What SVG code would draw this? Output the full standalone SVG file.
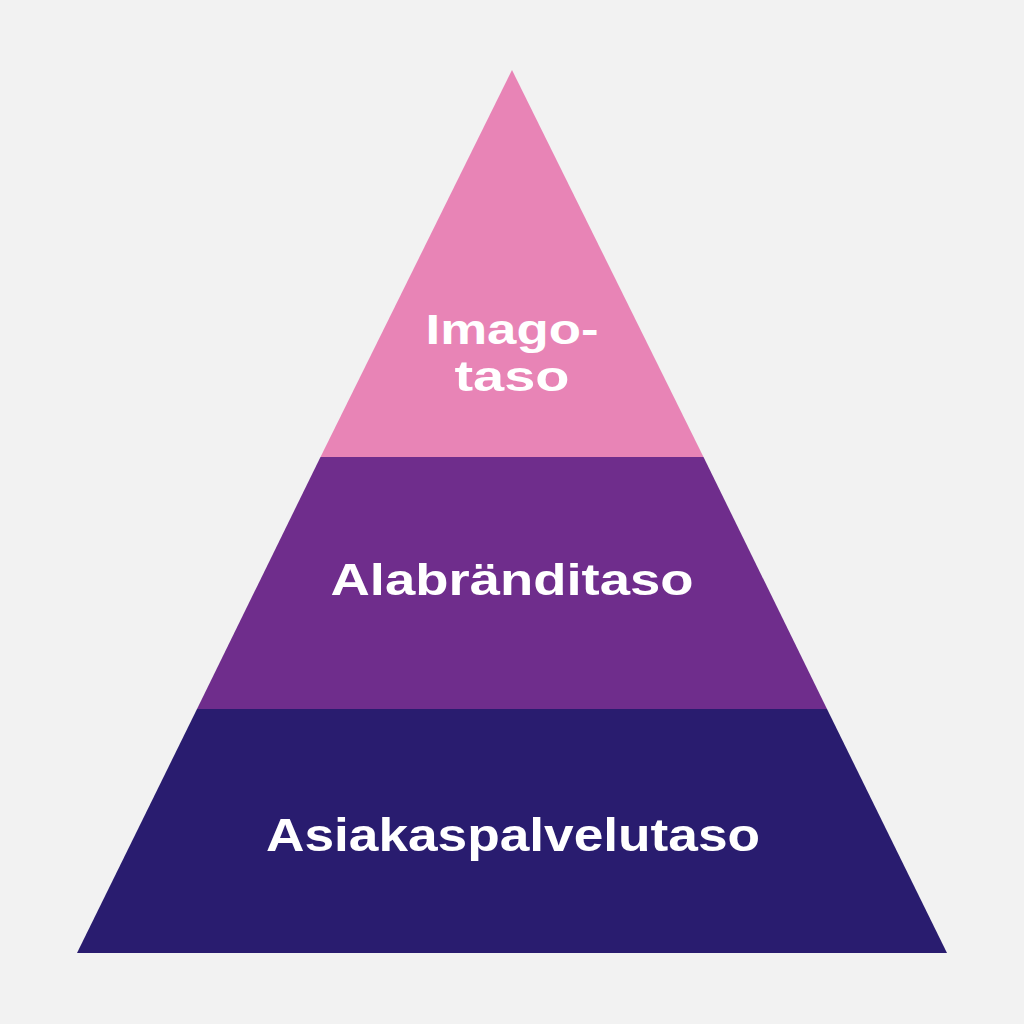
<svg xmlns="http://www.w3.org/2000/svg" width="1024" height="1024" viewBox="0 0 1024 1024">
<style>
.lbl{font-family:"Liberation Sans",Arial,sans-serif;font-weight:bold;font-size:45px;fill:#ffffff;text-anchor:middle}
</style>
<rect width="1024" height="1024" fill="#f2f2f2"/>
<g id="layer-top">
<polygon points="512,70 703.5,457 320.5,457" fill="#e884b6"/>
<text class="lbl" x="512" y="344" textLength="173" lengthAdjust="spacingAndGlyphs" style="font-size:43px">Imago-</text>
<text class="lbl" x="512" y="391" textLength="115" lengthAdjust="spacingAndGlyphs" style="font-size:43px">taso</text>
</g>
<g id="layer-middle">
<polygon points="320.5,457 703.5,457 827,709 197,709" fill="#6f2d8c"/>
<text class="lbl" x="512" y="595" textLength="363" lengthAdjust="spacingAndGlyphs">Alabränditaso</text>
</g>
<g id="layer-bottom">
<polygon points="197,709 827,709 947,953 77,953" fill="#291c6f"/>
<text class="lbl" x="513" y="851" textLength="494" lengthAdjust="spacingAndGlyphs" style="font-size:46px">Asiakaspalvelutaso</text>
</g>
</svg>
